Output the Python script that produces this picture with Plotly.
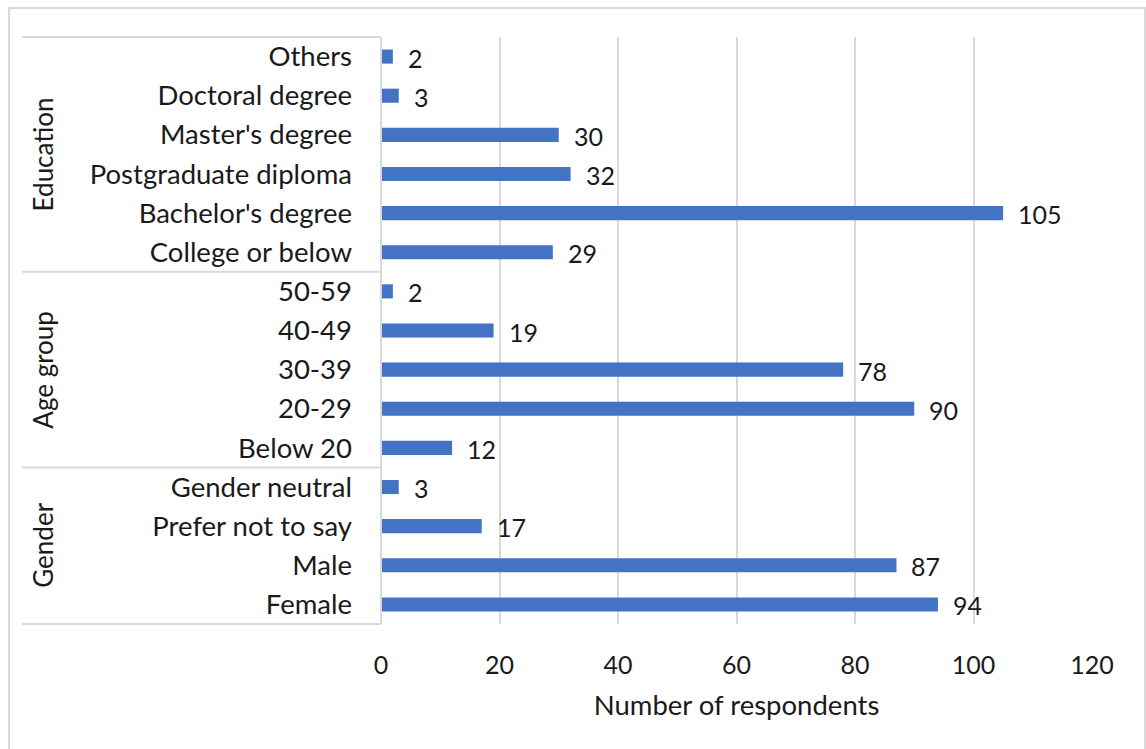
import plotly.graph_objects as go

# Survey demographics, listed bottom-to-top within each group
groups = ["Gender", "Age group", "Education"]
gender_labels = ["Female", "Male", "Prefer not to say", "Gender neutral"]
gender_counts = [94, 87, 17, 3]
age_labels = ["Below 20", "20-29", "30-39", "40-49", "50-59"]
age_counts = [12, 90, 78, 19, 2]
edu_labels = ["College or below", "Bachelor's degree", "Postgraduate diploma",
              "Master's degree", "Doctoral degree", "Others"]
edu_counts = [29, 105, 32, 30, 3, 2]
x_ticks = [0, 20, 40, 60, 80, 100, 120]
x_title = "Number of respondents"

group_labels = [gender_labels, age_labels, edu_labels]
group_counts = [gender_counts, age_counts, edu_counts]

labels = [l for g in group_labels for l in g]
counts = [c for g in group_counts for c in g]
n = len(labels)

FONT = "Lato"
FS = 27.5
GROUP_FS = 26
NUM_FS = 25
TXT = "#1a1a1a"
BLUE = "#4472C4"
LINE = "#D9D9D9"

W, H = 1146, 749
ML, MR, MT, MB = 381, 54, 37, 125
PW, PH = W - ML - MR, H - MT - MB


def px_x(px):
    return (px - ML) / PW


def px_y(py):
    return (H - MB - py) / PH


fig = go.Figure()
fig.add_trace(go.Bar(
    x=counts, y=list(range(n)), orientation="h",
    marker=dict(color=BLUE, line=dict(width=0)),
    width=0.36, hoverinfo="skip",
))

# value labels to the right of each bar
for i, v in enumerate(counts):
    fig.add_annotation(x=v, y=i, text=str(v), showarrow=False,
                       xanchor="left", xshift=13, yshift=-1,
                       font=dict(family=FONT, size=NUM_FS, color=TXT))

shapes = []
# outer chart frame
shapes.append(dict(type="rect", xref="paper", yref="paper",
                   x0=px_x(9), x1=px_x(1145), y0=px_y(780), y1=px_y(8),
                   line=dict(color=LINE, width=2), layer="below"))

# category table: group separators and group names
x_left = px_x(22)
start = 0
for gname, glabels in zip(groups, group_labels):
    end = start + len(glabels)
    shapes.append(dict(type="line", xref="paper", yref="paper",
                       x0=x_left, x1=0, y0=start / n, y1=start / n,
                       line=dict(color=LINE, width=2)))
    fig.add_annotation(xref="paper", yref="paper", x=px_x(43),
                       y=(start + end) / 2 / n, text=gname, textangle=-90,
                       showarrow=False, xanchor="center", yanchor="middle",
                       font=dict(family=FONT, size=GROUP_FS, color=TXT))
    start = end
shapes.append(dict(type="line", xref="paper", yref="paper",
                   x0=x_left, x1=0, y0=1, y1=1,
                   line=dict(color=LINE, width=2)))
shapes.append(dict(type="line", xref="paper", yref="paper",
                   x0=0, x1=0, y0=0, y1=1,
                   line=dict(color=LINE, width=2)))

fig.update_layout(
    width=W, height=H,
    margin=dict(l=ML, r=MR, t=MT, b=MB),
    paper_bgcolor="white", plot_bgcolor="white",
    showlegend=False, shapes=shapes,
    font=dict(family=FONT, size=FS, color=TXT),
    xaxis=dict(range=[0, 120], tickvals=x_ticks, showgrid=True,
               gridcolor=LINE, gridwidth=2, zeroline=False, showline=False,
               ticks="", ticklabelstandoff=24,
               tickfont=dict(family=FONT, size=NUM_FS, color=TXT),
               title=dict(text=x_title, standoff=17,
                          font=dict(family=FONT, size=FS, color=TXT))),
    yaxis=dict(range=[-0.5, n - 0.5], tickvals=list(range(n)), ticktext=labels,
               showgrid=False, zeroline=False, showline=False, ticks="",
               ticklabelstandoff=28,
               tickfont=dict(family=FONT, size=FS, color=TXT)),
)

fig.write_html("out.html")
